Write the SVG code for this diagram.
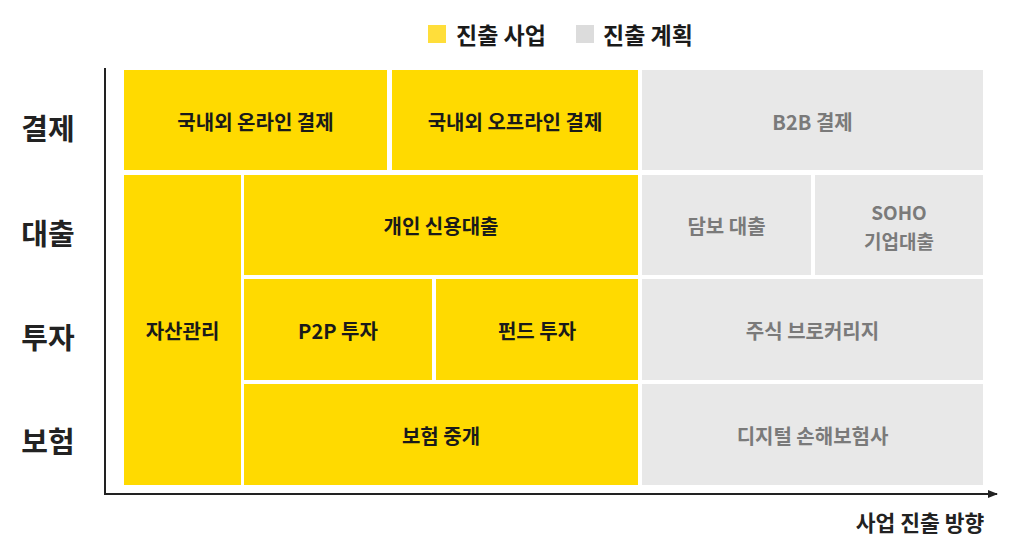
<svg xmlns="http://www.w3.org/2000/svg" width="1024" height="539" viewBox="0 0 1024 539">
<style>
text{font-family:"Noto Sans CJK KR","Noto Sans",sans-serif;font-weight:700;text-anchor:middle;dominant-baseline:central}
.y{fill:#FFDA00}
.g{fill:#E8E8E8}
.ty{font-size:20px;fill:#1a1a1a}
.tg{font-size:20px;fill:#7a7a7a}
.ax{font-size:29px;fill:#222}
.lg{font-size:23px;fill:#1a1a1a;text-anchor:start}
</style>
<defs>
<marker id="arr" markerWidth="10" markerHeight="8" refX="9" refY="4" orient="auto" markerUnits="userSpaceOnUse">
<path d="M0,0 L10,4 L0,8 Z" fill="#222"/>
</marker>
</defs>
<rect width="1024" height="539" fill="#fff"/>
<g id="legend">
<rect x="428" y="25" width="18" height="18" fill="#FFDE3A"/>
<text class="lg" x="456" y="34">진출 사업</text>
<rect x="576" y="25" width="18" height="18" fill="#DCDCDC"/>
<text class="lg" x="603" y="34">진출 계획</text>
</g>
<g id="axis-labels">
<text class="ax" x="48" y="127">결제</text>
<text class="ax" x="48" y="232">대출</text>
<text class="ax" x="48" y="336">투자</text>
<text class="ax" x="48" y="440">보험</text>
<text x="920" y="521" style="font-size:21.5px;fill:#222">사업 진출 방향</text>
</g>
<g id="connectors">
<line x1="105" y1="68" x2="105" y2="494" stroke="#222" stroke-width="2"/>
<line x1="104" y1="494" x2="997" y2="494" stroke="#222" stroke-width="2" marker-end="url(#arr)"/>
</g>
<g id="n-online"><rect class="y" x="124" y="70" width="263" height="100"/><text class="ty" x="255.5" y="121">국내외 온라인 결제</text></g>
<g id="n-offline"><rect class="y" x="392" y="70" width="246" height="100"/><text class="ty" x="515" y="121">국내외 오프라인 결제</text></g>
<g id="n-b2b"><rect class="g" x="642" y="70" width="341" height="100"/><text class="tg" x="812.5" y="121">B2B 결제</text></g>
<g id="n-asset"><rect class="y" x="124" y="175" width="117" height="310"/><text class="ty" x="182.5" y="330">자산관리</text></g>
<g id="n-credit"><rect class="y" x="244" y="175" width="394" height="100"/><text class="ty" x="441" y="225">개인 신용대출</text></g>
<g id="n-collateral"><rect class="g" x="642" y="175" width="169" height="100"/><text class="tg" x="726.5" y="225">담보 대출</text></g>
<g id="n-soho"><rect class="g" x="815" y="175" width="168" height="100"/><text class="tg" x="899" y="211" style="font-size:19px">SOHO</text><text class="tg" x="899" y="240" style="font-size:19px">기업대출</text></g>
<g id="n-p2p"><rect class="y" x="244" y="279" width="188" height="101"/><text class="ty" x="338" y="330">P2P 투자</text></g>
<g id="n-fund"><rect class="y" x="436" y="279" width="202" height="101"/><text class="ty" x="537" y="330">펀드 투자</text></g>
<g id="n-stock"><rect class="g" x="642" y="279" width="341" height="101"/><text class="tg" x="812.5" y="330">주식 브로커리지</text></g>
<g id="n-insure"><rect class="y" x="244" y="384" width="394" height="101"/><text class="ty" x="441" y="435">보험 중개</text></g>
<g id="n-digital"><rect class="g" x="642" y="384" width="341" height="101"/><text class="tg" x="812.5" y="435">디지털 손해보험사</text></g>
</svg>
